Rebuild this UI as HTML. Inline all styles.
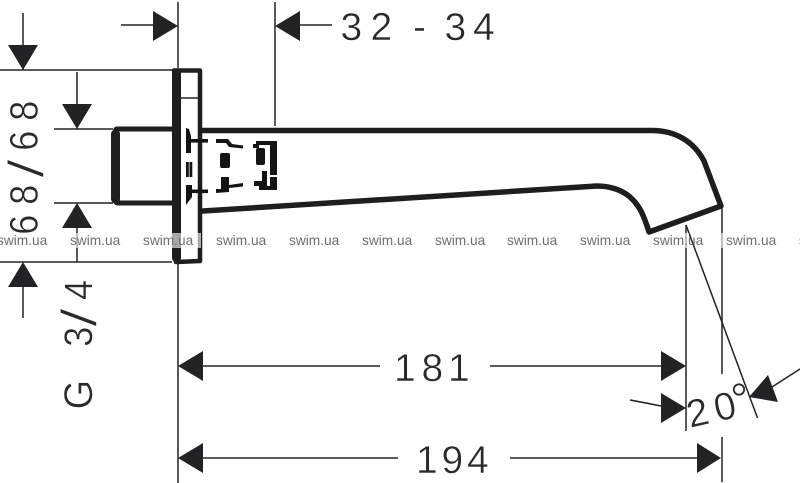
<!DOCTYPE html>
<html>
<head>
<meta charset="utf-8">
<style>
html,body{margin:0;padding:0;background:#fff;}
svg{display:block;}
text{font-family:"Liberation Sans",sans-serif;}
.d{font-size:39px;fill:#2a2a2e;stroke:#fff;stroke-width:.45px;}
.r{font-size:40px;fill:#2a2a2e;stroke:#fff;stroke-width:.45px;}
.s{font-size:50px;fill:#2a2a2e;stroke:#fff;stroke-width:1.1px;}
.w{font-size:13.7px;fill:#6e6e6e;}
</style>
</head>
<body>
<svg width="800" height="483" viewBox="0 0 800 483" xmlns="http://www.w3.org/2000/svg">
<rect width="800" height="483" fill="#fff"/>

<!-- thin dimension lines -->
<g stroke="#232326" stroke-width="1.5" fill="none">
<path d="M23 13V70M0 70H172M77 72V129M54 129H113M54 203H113M77 228V262M0 262H172M23 287V318"/>
<path d="M178 2V68M178 263V483M121 25H153M275 2V126M300 25H332"/>
<path d="M203 366H380M490 366H661M686 225V431M722 206V374M722 437V482M203 458H398M510 458H697"/>
<path d="M686 225L757.500 418M800 369L772 387M630 400Q646 403 661 406"/>
<path d="M181 98H198"/>
</g>

<!-- arrowheads -->
<g fill="#232326">
<path d="M23 70L8 45H38Z"/>
<path d="M77 129L62 104H92Z"/>
<path d="M77 203L62 228H92Z"/>
<path d="M23 262L8 287H38Z"/>
<path d="M178 26L153 11V41Z"/>
<path d="M275 26L300 11V41Z"/>
<path d="M178 366L203 351V381Z"/>
<path d="M686 366L661 351V381Z"/>
<path d="M686 408L661 393V423Z"/>
<path d="M749 397L768 375L778 402Z"/>
<path d="M178 458L203 443V473Z"/>
<path d="M721 458L697 443V473Z"/>
</g>

<!-- body -->
<g fill="none" stroke="#1e1e21" stroke-linejoin="round" stroke-linecap="round">
<path d="M176.500 73V258" stroke-width="9"/>
<path d="M174 70.500H200V261L176 262" stroke-width="4.500"/>
<path d="M172 129H117Q115.500 129 115.500 132V200Q115.500 203 118 203H172" stroke-width="5"/>
<path d="M115.500 134V199" stroke-width="9"/>
<path d="M202 130.500H652C676 130.500 694 142 704 161L721 206L649 232C644 216 640 206 630 197C622 190 610 186 597 186L203 211" stroke-width="5.500"/>
</g>

<!-- internal dashed detail -->
<g fill="#141416" stroke="none">
<path d="M186 128L189 129L191 136V153H186Z"/>
<rect x="186" y="139" width="22" height="3.600"/>
<rect x="186" y="162" width="2.800" height="15"/>
<rect x="189.500" y="162" width="2.800" height="15"/>
<path d="M186 185H192V197L186 205Z"/>
<rect x="186" y="189.500" width="22" height="3.600"/>
<path d="M216 139H228L232 144L243 145.500V148.500L229 147L226 143H216Z"/>
<rect x="220" y="153" width="10" height="15" rx="2"/>
<path d="M221 177H229V185L243 183V186.500L229 188V192L216 193V189H221Z"/>
<rect x="256" y="141" width="21" height="4"/>
<rect x="256" y="148" width="9" height="17" rx="2"/>
<rect x="253" y="144" width="6" height="4"/>
<rect x="270" y="141" width="7" height="34"/>
<rect x="262" y="171" width="5" height="10"/>
<rect x="254" y="181" width="13" height="5"/>
<rect x="270" y="177" width="7" height="13"/>
<rect x="259" y="186" width="18" height="4"/>
</g>

<!-- dimension text -->
<text class="d" y="40" x="340.500 370.500">32</text>
<text class="d" y="40" x="413">-</text>
<text class="d" y="40" x="444.500 473">34</text>
<text class="d" y="381" x="394 421.500 448">181</text>
<text class="d" y="473" x="416 441.500 467">194</text>

<text class="r" transform="translate(37.500 234.800) rotate(-90) scale(.9 1)">6</text>
<text class="r" transform="translate(37.500 204.800) rotate(-90) scale(.9 1)">8</text>
<text class="s" transform="translate(43.500 178) rotate(-90) scale(1.37 1)">/</text>
<text class="r" transform="translate(37.500 150.800) rotate(-90) scale(.9 1)">6</text>
<text class="r" transform="translate(37.500 120.800) rotate(-90) scale(.9 1)">8</text>

<text class="r" transform="translate(92 409.400) rotate(-90) scale(.95 1)">G</text>
<text class="r" transform="translate(92 346.800) rotate(-90) scale(.9 1)">3</text>
<text class="s" transform="translate(96.500 327) rotate(-90) scale(1.37 1)">/</text>
<text class="r" transform="translate(92 300) rotate(-90) scale(.9 1)">4</text>

<text class="d" transform="translate(690 428) rotate(-13)" x="0 28">20</text>
<circle cx="739" cy="389.500" r="5.200" fill="none" stroke="#2a2a2e" stroke-width="1.800"/>

<!-- watermark backing -->
<g fill="#fff" fill-opacity=".62">
<rect x="171" y="233" width="30" height="15"/>
<rect x="682" y="233" width="7" height="15"/>
<rect x="719" y="233" width="6" height="15"/>
<rect x="20" y="233" width="6" height="15"/>
<rect x="75" y="233" width="5" height="15"/>
</g>

<!-- watermark -->
<g>
<text class="w" x="-3" y="245">swim.ua</text>
<text class="w" x="70" y="245">swim.ua</text>
<text class="w" x="143" y="245">swim.ua</text>
<text class="w" x="216" y="245">swim.ua</text>
<text class="w" x="289" y="245">swim.ua</text>
<text class="w" x="362" y="245">swim.ua</text>
<text class="w" x="435" y="245">swim.ua</text>
<text class="w" x="507" y="245">swim.ua</text>
<text class="w" x="580" y="245">swim.ua</text>
<text class="w" x="653" y="245">swim.ua</text>
<text class="w" x="726" y="245">swim.ua</text>
<text class="w" x="799" y="245">swim.ua</text>
</g>
</svg>
</body>
</html>
